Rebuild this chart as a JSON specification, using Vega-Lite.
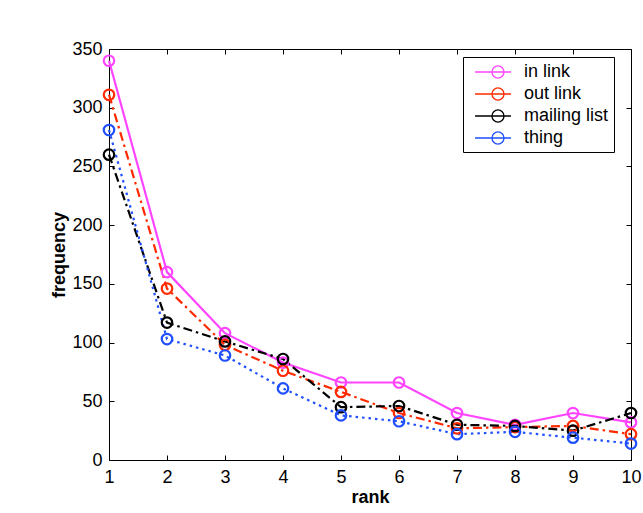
{
  "$schema": "https://vega.github.io/schema/vega-lite/v6.json",
  "width": 522,
  "height": 411,
  "autosize": "none",
  "padding": {"left": 109, "top": 49, "right": 12, "bottom": 53},
  "background": "white",
  "config": {
    "font": "Liberation Sans",
    "view": {"stroke": "black", "strokeWidth": 1},
    "axis": {"grid": false, "domain": false, "ticks": true, "offset": -5, "tickSize": 5, "tickColor": "black", "labelColor": "black", "titleColor": "black", "labelFont": "Liberation Sans", "titleFont": "Liberation Sans", "labelFontSize": 18, "titleFontSize": 18, "titleFontWeight": "bold", "tickWidth": 1, "labelFlush": false}
  },
  "data": {"values": [
    {"rank": 1, "series": "in link", "frequency": 340},
    {"rank": 2, "series": "in link", "frequency": 160},
    {"rank": 3, "series": "in link", "frequency": 108},
    {"rank": 4, "series": "in link", "frequency": 83},
    {"rank": 5, "series": "in link", "frequency": 66},
    {"rank": 6, "series": "in link", "frequency": 66},
    {"rank": 7, "series": "in link", "frequency": 40},
    {"rank": 8, "series": "in link", "frequency": 30},
    {"rank": 9, "series": "in link", "frequency": 40},
    {"rank": 10, "series": "in link", "frequency": 32},
    {"rank": 1, "series": "out link", "frequency": 311},
    {"rank": 2, "series": "out link", "frequency": 146},
    {"rank": 3, "series": "out link", "frequency": 98},
    {"rank": 4, "series": "out link", "frequency": 76},
    {"rank": 5, "series": "out link", "frequency": 58},
    {"rank": 6, "series": "out link", "frequency": 40},
    {"rank": 7, "series": "out link", "frequency": 27},
    {"rank": 8, "series": "out link", "frequency": 28},
    {"rank": 9, "series": "out link", "frequency": 29},
    {"rank": 10, "series": "out link", "frequency": 22},
    {"rank": 1, "series": "mailing list", "frequency": 260},
    {"rank": 2, "series": "mailing list", "frequency": 117},
    {"rank": 3, "series": "mailing list", "frequency": 101},
    {"rank": 4, "series": "mailing list", "frequency": 86},
    {"rank": 5, "series": "mailing list", "frequency": 45},
    {"rank": 6, "series": "mailing list", "frequency": 46},
    {"rank": 7, "series": "mailing list", "frequency": 30},
    {"rank": 8, "series": "mailing list", "frequency": 29},
    {"rank": 9, "series": "mailing list", "frequency": 25},
    {"rank": 10, "series": "mailing list", "frequency": 40},
    {"rank": 1, "series": "thing", "frequency": 281},
    {"rank": 2, "series": "thing", "frequency": 103},
    {"rank": 3, "series": "thing", "frequency": 89},
    {"rank": 4, "series": "thing", "frequency": 61},
    {"rank": 5, "series": "thing", "frequency": 38},
    {"rank": 6, "series": "thing", "frequency": 33},
    {"rank": 7, "series": "thing", "frequency": 22},
    {"rank": 8, "series": "thing", "frequency": 24},
    {"rank": 9, "series": "thing", "frequency": 19},
    {"rank": 10, "series": "thing", "frequency": 14}
  ]},
  "resolve": {"axis": {"x": "independent", "y": "independent"}},
  "layer": [
    {
      "transform": [{"filter": {"field": "series", "equal": "in link"}}],
      "mark": {"type": "line", "strokeWidth": 2.2, "clip": false},
      "encoding": {
        "x": {"field": "rank", "type": "quantitative", "scale": {"domain": [1, 10], "nice": false, "zero": false},
              "axis": {"orient": "bottom", "values": [1,2,3,4,5,6,7,8,9,10], "title": "rank", "labelPadding": 8, "titlePadding": 2}},
        "y": {"field": "frequency", "type": "quantitative", "scale": {"domain": [0, 350], "nice": false},
              "axis": {"orient": "left", "values": [0,50,100,150,200,250,300,350], "title": "frequency", "labelPadding": 7, "titlePadding": 3}},
        "color": {"field": "series", "type": "nominal",
                  "scale": {"domain": ["in link", "out link", "mailing list", "thing"], "range": ["#ff44ff", "#ff2a00", "#000000", "#1f4fff"]},
                  "legend": {"orient": "none", "legendX": 354, "legendY": 8, "title": null, "strokeColor": "black", "fillColor": "white", "padding": 5,
                             "labelFontSize": 18, "labelFont": "Liberation Sans", "labelColor": "black", "symbolSize": 324,
                             "symbolType": "M-0.33,0L3.67,0M2.89,0A0.67,0.67,0,1,1,1.55,0A0.67,0.67,0,1,1,2.89,0",
                             "symbolStrokeWidth": 1.3, "symbolFillColor": "transparent", "rowPadding": 3, "labelOffset": 36}}
      }
    },
    {
      "transform": [{"filter": {"field": "series", "equal": "out link"}}],
      "mark": {"type": "line", "strokeWidth": 2.2, "clip": false, "strokeDash": [9, 4, 2.5, 4]},
      "encoding": {
        "x": {"field": "rank", "type": "quantitative", "axis": null},
        "y": {"field": "frequency", "type": "quantitative", "axis": null},
        "color": {"field": "series", "type": "nominal"}
      }
    },
    {
      "transform": [{"filter": {"field": "series", "equal": "mailing list"}}],
      "mark": {"type": "line", "strokeWidth": 2.2, "clip": false, "strokeDash": [9, 4, 2.5, 4]},
      "encoding": {
        "x": {"field": "rank", "type": "quantitative", "axis": null},
        "y": {"field": "frequency", "type": "quantitative", "axis": null},
        "color": {"field": "series", "type": "nominal"}
      }
    },
    {
      "transform": [{"filter": {"field": "series", "equal": "thing"}}],
      "mark": {"type": "line", "strokeWidth": 2.2, "clip": false, "strokeDash": [2.5, 4]},
      "encoding": {
        "x": {"field": "rank", "type": "quantitative", "axis": null},
        "y": {"field": "frequency", "type": "quantitative", "axis": null},
        "color": {"field": "series", "type": "nominal"}
      }
    },
    {
      "mark": {"type": "point", "filled": false, "size": 110, "strokeWidth": 2.2, "opacity": 1, "clip": false},
      "encoding": {
        "x": {"field": "rank", "type": "quantitative",
              "axis": {"orient": "top", "values": [1,2,3,4,5,6,7,8,9,10], "labels": false, "title": null}},
        "y": {"field": "frequency", "type": "quantitative",
              "axis": {"orient": "right", "values": [0,50,100,150,200,250,300,350], "labels": false, "title": null}},
        "color": {"field": "series", "type": "nominal"}
      }
    }
  ]
}
